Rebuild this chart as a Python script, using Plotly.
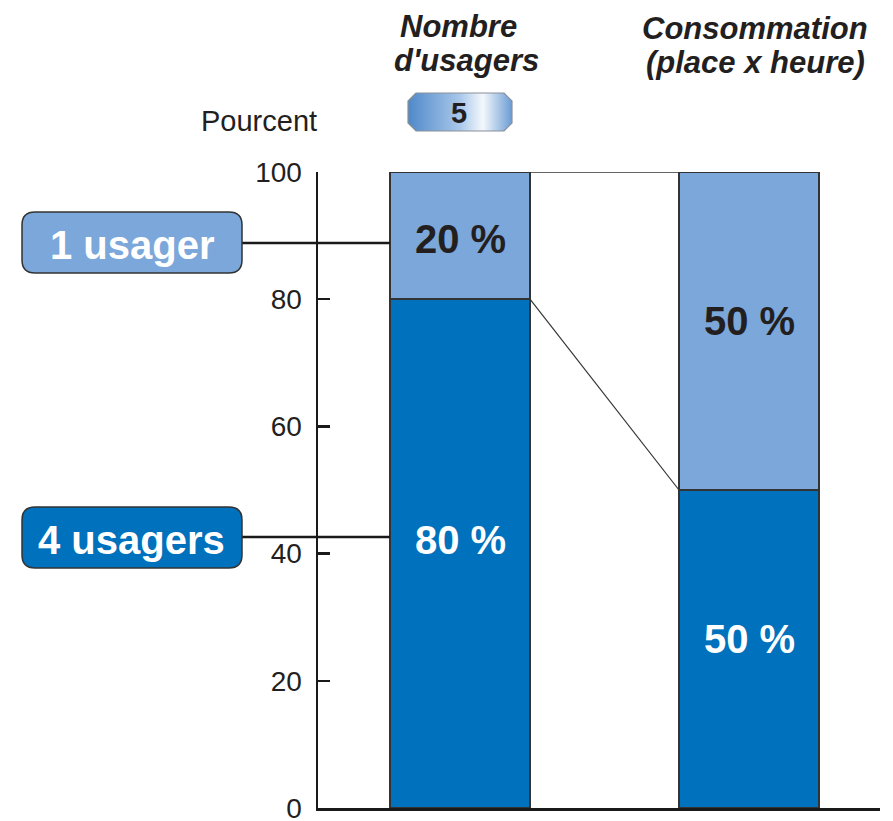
import plotly.graph_objects as go

# ---- data ----
categories = ["Nombre d'usagers", "Consommation (place x heure)"]
cat_pos = [0, 1]
series_names = ["4 usagers", "1 usager"]
vals_4 = [80, 50]
vals_1 = [20, 50]
y_ticks = [0, 20, 40, 60, 80, 100]
badge_value = "5"

DARK = "#0071BC"
LIGHT = "#7BA7DA"
EDGE = "#333333"
FONT = "Liberation Sans, Arial, sans-serif"

W, H = 893, 821
BAR_W = 0.4844

fig = go.Figure()

# stacked bars
fig.add_trace(go.Bar(x=cat_pos, y=vals_4, name=series_names[0], width=BAR_W,
                     marker=dict(color=DARK, line=dict(color=EDGE, width=1.5)),
                     xaxis="x", yaxis="y", showlegend=False, hoverinfo="skip"))
fig.add_trace(go.Bar(x=cat_pos, y=vals_1, name=series_names[1], width=BAR_W,
                     marker=dict(color=LIGHT, line=dict(color=EDGE, width=1.5)),
                     xaxis="x", yaxis="y", showlegend=False, hoverinfo="skip"))

# connector lines between bars (top and the 4-usagers boundary)
x_conn = [cat_pos[0] + BAR_W / 2, cat_pos[1] - BAR_W / 2]
tops = [a + b for a, b in zip(vals_4, vals_1)]
fig.add_trace(go.Scatter(x=x_conn, y=tops, mode="lines", line=dict(color=EDGE, width=1.5),
                         xaxis="x", yaxis="y", showlegend=False, hoverinfo="skip"))
fig.add_trace(go.Scatter(x=x_conn, y=vals_4, mode="lines", line=dict(color=EDGE, width=1.2),
                         xaxis="x", yaxis="y", showlegend=False, hoverinfo="skip"))

# value labels
label_y_1 = [89.5, 76.5]
label_y_4 = [42.2, 26.5]
for i, c in enumerate(cat_pos):
    fig.add_annotation(x=c, y=label_y_1[i], xref="x", yref="y", text=f"{vals_1[i]} %",
                       showarrow=False, font=dict(family=FONT, size=40, color="#231f20", weight="bold"))
    fig.add_annotation(x=c, y=label_y_4[i], xref="x", yref="y", text=f"{vals_4[i]} %",
                       showarrow=False, font=dict(family=FONT, size=40, color="white", weight="bold"))

# ---- decorations in page pixel space (x2/y2) ----
def rounded_rect(x0, y0, x1, y1, r):
    return (f"M {x0+r},{y0} L {x1-r},{y0} Q {x1},{y0} {x1},{y0+r} "
            f"L {x1},{y1-r} Q {x1},{y1} {x1-r},{y1} L {x0+r},{y1} "
            f"Q {x0},{y1} {x0},{y1-r} L {x0},{y0+r} Q {x0},{y0} {x0+r},{y0} Z")

shapes = []
for yy in (243, 537):
    shapes.append(dict(type="line", xref="x2", yref="y2", x0=242, x1=390, y0=yy, y1=yy,
                       line=dict(color="#1a1a1a", width=2.5), layer="above"))
shapes.append(dict(type="path", xref="x2", yref="y2", path=rounded_rect(22, 212, 242, 273, 13),
                   fillcolor=LIGHT, line=dict(color=EDGE, width=1.5), layer="above"))
shapes.append(dict(type="path", xref="x2", yref="y2", path=rounded_rect(22, 507, 242, 568, 13),
                   fillcolor=DARK, line=dict(color=EDGE, width=1.5), layer="above"))

fig.add_annotation(x=132, y=245, xref="x2", yref="y2", text=series_names[1], showarrow=False,
                   font=dict(family=FONT, size=40, color="white", weight="bold"))
fig.add_annotation(x=131, y=540, xref="x2", yref="y2", text=series_names[0], showarrow=False,
                   font=dict(family=FONT, size=40, color="white", weight="bold"))

# badge (gradient octagon)
bx = [416, 504, 512, 512, 504, 416, 408, 408, 416]
by = [93, 93, 101, 123, 131, 131, 123, 101, 93]
fig.add_trace(go.Scatter(x=bx, y=by, mode="lines", fill="toself",
                         fillgradient=dict(type="horizontal",
                                           colorscale=[[0, "#4f89c9"], [0.5, "#a9c7ea"],
                                                       [0.72, "#f4f8fc"], [1, "#6a9cd4"]]),
                         line=dict(color="#8a8f98", width=1.2),
                         xaxis="x2", yaxis="y2", showlegend=False, hoverinfo="skip"))
fig.add_annotation(x=459, y=113, xref="x2", yref="y2", text=badge_value, showarrow=False,
                   font=dict(family=FONT, size=29, color="#231f20", weight="bold"))

# titles
title_font = dict(family=FONT, size=31, color="#231f20", weight="bold", style="italic")
fig.add_annotation(x=458, y=26, xref="x2", yref="y2", text="Nombre", showarrow=False, font=title_font)
fig.add_annotation(x=466, y=60, xref="x2", yref="y2", text="d'usagers", showarrow=False, font=title_font)
fig.add_annotation(x=755, y=28, xref="x2", yref="y2", text="Consommation", showarrow=False, font=title_font)
fig.add_annotation(x=755, y=62, xref="x2", yref="y2", text="(place x heure)", showarrow=False, font=title_font)
fig.add_annotation(x=259, y=121, xref="x2", yref="y2", text="Pourcent", showarrow=False,
                   font=dict(family=FONT, size=29, color="#231f20"))

xr0 = -(460 - 318) / 289
xr1 = 1 + (880 - 749) / 289

fig.update_layout(
    width=W, height=H, margin=dict(l=0, r=0, t=0, b=0, pad=0, autoexpand=False),
    paper_bgcolor="white", plot_bgcolor="rgba(0,0,0,0)",
    barmode="stack", bargap=0, shapes=shapes,
    xaxis=dict(domain=[318 / W, 880 / W], range=[xr0, xr1], anchor="y", automargin=False,
               showline=True, linecolor="#1a1a1a", linewidth=2.5,
               showticklabels=False, ticks="", showgrid=False, zeroline=False, fixedrange=True),
    yaxis=dict(domain=[13 / H, (H - 172) / H], range=[0, 100], anchor="x", automargin=False,
               showline=True, linecolor="#1a1a1a", linewidth=2.5,
               tickvals=y_ticks, ticktext=[str(t) for t in y_ticks],
               ticks="inside", ticklen=12, tickwidth=2.5, tickcolor="#1a1a1a",
               ticklabelstandoff=8, ticklabeloverflow="allow",
               tickfont=dict(family=FONT, size=28, color="#231f20"),
               showgrid=False, zeroline=False, fixedrange=True),
    xaxis2=dict(domain=[0, 1], range=[0, W], anchor="y2", visible=False, fixedrange=True,
                automargin=False),
    yaxis2=dict(domain=[0, 1], range=[H, 0], anchor="x2", visible=False, fixedrange=True,
                automargin=False),
)

fig.write_html("out.html", config={"displayModeBar": False, "staticPlot": True},
               post_script="document.body.style.margin='0';")
